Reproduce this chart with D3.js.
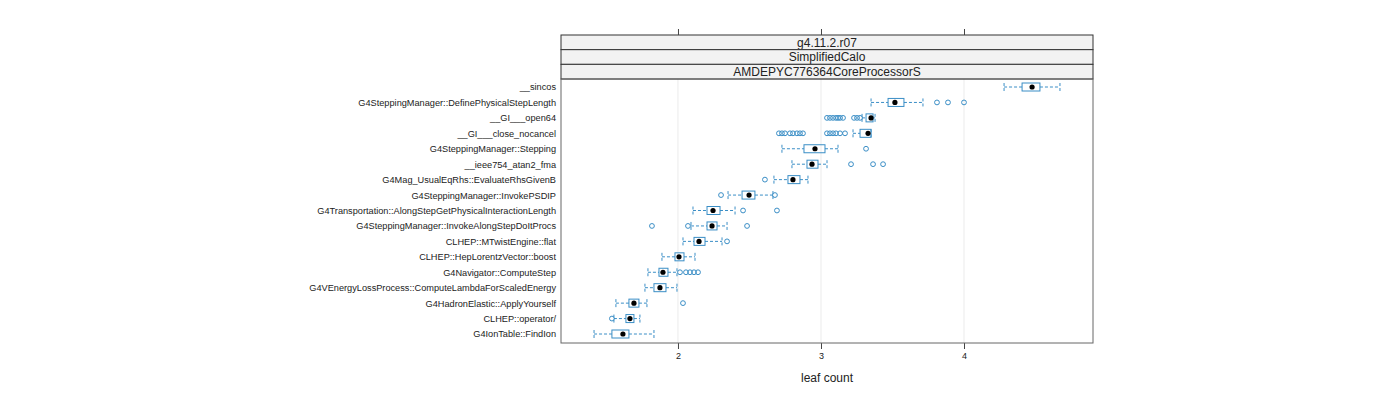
<!DOCTYPE html>
<html>
<head>
<meta charset="utf-8">
<script src="https://cdn.jsdelivr.net/npm/d3@7"></script>
<style>
  body { margin: 0; background: #fff; }
  svg text { font-family: "Liberation Sans", Arial, sans-serif; }
</style>
</head>
<body>
<div id="chart"></div>
<script>
let categories = [
    "__sincos",
    "G4SteppingManager::DefinePhysicalStepLength",
    "__GI___open64",
    "__GI___close_nocancel",
    "G4SteppingManager::Stepping",
    "__ieee754_atan2_fma",
    "G4Mag_UsualEqRhs::EvaluateRhsGivenB",
    "G4SteppingManager::InvokePSDIP",
    "G4Transportation::AlongStepGetPhysicalInteractionLength",
    "G4SteppingManager::InvokeAlongStepDoItProcs",
    "CLHEP::MTwistEngine::flat",
    "CLHEP::HepLorentzVector::boost",
    "G4Navigator::ComputeStep",
    "G4VEnergyLossProcess::ComputeLambdaForScaledEnergy",
    "G4HadronElastic::ApplyYourself",
    "CLHEP::operator/",
    "G4IonTable::FindIon"
];
let whiskerLow = [4.280, 3.350, 3.287, 3.224, 2.727, 2.797, 2.671, 2.350, 2.105, 2.091, 2.035, 1.888, 1.790, 1.769, 1.566, 1.552, 1.413];
let q1 =         [4.406, 3.469, 3.315, 3.273, 2.881, 2.902, 2.769, 2.448, 2.203, 2.203, 2.112, 1.979, 1.867, 1.832, 1.657, 1.636, 1.538];
let median =     [4.476, 3.517, 3.350, 3.329, 2.958, 2.937, 2.804, 2.497, 2.245, 2.238, 2.147, 2.007, 1.895, 1.874, 1.692, 1.664, 1.615];
let q3 =         [4.531, 3.580, 3.364, 3.350, 3.028, 2.979, 2.853, 2.538, 2.294, 2.273, 2.189, 2.042, 1.930, 1.916, 1.727, 1.692, 1.657];
let whiskerHigh = [4.671, 3.713, 3.378, 3.350, 3.119, 3.042, 2.909, 2.664, 2.399, 2.343, 2.308, 2.119, 1.993, 1.993, 1.783, 1.734, 1.832];
let outliers = [
    [],
    [3.811, 3.888, 4.0],
    [3.042, 3.063, 3.084, 3.105, 3.119, 3.133, 3.154, 3.231, 3.252, 3.273],
    [2.706, 2.727, 2.748, 2.783, 2.804, 2.832, 2.853, 2.874, 3.042, 3.063, 3.084, 3.105, 3.133, 3.168],
    [3.315],
    [3.210, 3.364, 3.434],
    [2.608],
    [2.301, 2.678],
    [2.455, 2.692],
    [1.818, 2.070, 2.483],
    [2.343],
    [],
    [2.014, 2.056, 2.084, 2.112, 2.140],
    [],
    [2.035],
    [1.538],
    []
];
let xTicks = [2, 3, 4];
let stripLabels = ["g4.11.2.r07", "SimplifiedCalo", "AMDEPYC776364CoreProcessorS"];
let xLabel = "leaf count";

let width = 1400, height = 400;
let panelLeft = 561, panelRight = 1093, panelTop = 35, panelBottom = 343;
let stripH = 14.67;
let dataTop = panelTop + stripH * stripLabels.length;
let boxCol = "#3a8ec6";
let fontStack = "\"Liberation Sans\", Arial, sans-serif";

let svg = d3.select("#chart").append("svg")
    .attr("width", width)
    .attr("height", height);

let x = d3.scaleLinear()
    .domain([1.182, 4.902])
    .range([panelLeft, panelRight]);

let y = d3.scalePoint()
    .domain(categories)
    .range([87, 334]);

// grid lines
svg.append("g").selectAll("line")
    .data(xTicks)
    .join("line")
    .attr("x1", d => x(d)).attr("x2", d => x(d))
    .attr("y1", dataTop).attr("y2", panelBottom)
    .attr("stroke", "#ebebeb")
    .attr("stroke-width", 1);

// strips
let strips = svg.append("g");
stripLabels.forEach(function (s, i) {
    strips.append("rect")
        .attr("x", panelLeft).attr("y", panelTop + i * stripH)
        .attr("width", panelRight - panelLeft).attr("height", stripH)
        .attr("fill", "#f2f2f2")
        .attr("stroke", "#333").attr("stroke-width", 1);
    strips.append("text")
        .attr("x", (panelLeft + panelRight) / 2)
        .attr("y", panelTop + i * stripH + stripH / 2)
        .attr("dy", "0.36em")
        .attr("text-anchor", "middle")
        .attr("font-size", 12)
        .attr("fill", "#222")
        .text(s);
});

// axes
let bottomAxis = d3.axisBottom(x).tickValues(xTicks).tickFormat(d3.format("d"))
    .tickSize(6).tickPadding(4);
let gb = svg.append("g")
    .attr("transform", "translate(0," + panelBottom + ")")
    .call(bottomAxis);
gb.select(".domain").remove();
gb.selectAll("line").attr("stroke", "#444");
gb.selectAll("text").attr("font-size", 9).attr("fill", "#222")
    .style("font-family", fontStack);

let topAxis = d3.axisTop(x).tickValues(xTicks).tickSize(6).tickFormat("");
let gt = svg.append("g")
    .attr("transform", "translate(0," + panelTop + ")")
    .call(topAxis);
gt.select(".domain").remove();
gt.selectAll("line").attr("stroke", "#444");

let leftAxis = d3.axisLeft(y).tickSize(0).tickPadding(5);
let gl = svg.append("g")
    .attr("transform", "translate(" + panelLeft + ",0)")
    .call(leftAxis);
gl.select(".domain").remove();
gl.selectAll("text").attr("font-size", 9.2).attr("fill", "#222")
    .style("font-family", fontStack);

// panel border
svg.append("rect")
    .attr("x", panelLeft).attr("y", dataTop)
    .attr("width", panelRight - panelLeft).attr("height", panelBottom - dataTop)
    .attr("fill", "none")
    .attr("stroke", "#666").attr("stroke-width", 1);

// boxes
let boxH = 8;
let rows = svg.append("g").selectAll("g")
    .data(categories)
    .join("g")
    .attr("transform", d => "translate(0," + y(d) + ")");

rows.append("line")
    .attr("x1", (d, i) => x(whiskerLow[i])).attr("x2", (d, i) => x(q1[i]))
    .attr("stroke", boxCol).attr("stroke-dasharray", "3,2");
rows.append("line")
    .attr("x1", (d, i) => x(q3[i])).attr("x2", (d, i) => x(whiskerHigh[i]))
    .attr("stroke", boxCol).attr("stroke-dasharray", "3,2");
rows.append("line")
    .attr("x1", (d, i) => x(whiskerLow[i])).attr("x2", (d, i) => x(whiskerLow[i]))
    .attr("y1", -boxH / 2).attr("y2", boxH / 2)
    .attr("stroke", boxCol).attr("stroke-dasharray", "3,2");
rows.append("line")
    .attr("x1", (d, i) => x(whiskerHigh[i])).attr("x2", (d, i) => x(whiskerHigh[i]))
    .attr("y1", -boxH / 2).attr("y2", boxH / 2)
    .attr("stroke", boxCol).attr("stroke-dasharray", "3,2");
rows.append("rect")
    .attr("x", (d, i) => x(q1[i]))
    .attr("y", -boxH / 2)
    .attr("width", (d, i) => x(q3[i]) - x(q1[i]))
    .attr("height", boxH)
    .attr("fill", "none")
    .attr("stroke", boxCol).attr("stroke-width", 1);
rows.each(function (d, i) {
    d3.select(this).selectAll("circle.out")
        .data(outliers[i])
        .join("circle")
        .attr("class", "out")
        .attr("cx", v => x(v))
        .attr("r", 2.4)
        .attr("fill", "none")
        .attr("stroke", boxCol);
});
rows.append("circle")
    .attr("cx", (d, i) => x(median[i]))
    .attr("r", 2.6)
    .attr("fill", "#000");

// x label
svg.append("text")
    .attr("x", (panelLeft + panelRight) / 2)
    .attr("y", 382)
    .attr("text-anchor", "middle")
    .attr("font-size", 12)
    .attr("fill", "#222")
    .text(xLabel);
</script>
</body>
</html>
